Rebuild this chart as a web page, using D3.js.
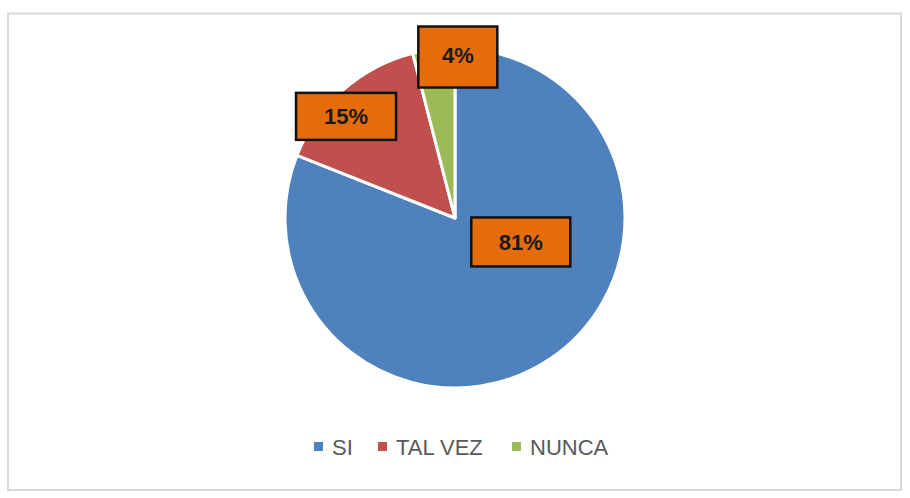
<!DOCTYPE html>
<meta charset="utf-8">
<style>
    body { margin: 0; background: #fff; }
    text { font-family: "Liberation Sans", Arial, sans-serif; }
</style>
<body>
    <div id="chart"></div>
</body>
<script src="https://cdn.jsdelivr.net/npm/d3@7"></script>
<script>
    var svg_width = 910,
        svg_height = 498;

    // chart values
    const categories = ["SI", "TAL VEZ", "NUNCA"];
    const values = [81, 15, 4];
    const colors = ["#4F81BD", "#C0504D", "#9BBB59"];

    // where each label box sits: [angle in degrees clockwise from top, distance from centre]
    const label_spot = [[110, 70], [313, 149], [1, 161]];
    const label_box = [[99, 49], [100, 47], [79, 61]];

    var cx = 455, cy = 218, radius = 170;

    var svg = d3.select("#chart").append("svg")
        .attr("width", svg_width)
        .attr("height", svg_height);

    // chart border
    svg.append("rect")
        .attr("x", 8).attr("y", 13.5)
        .attr("width", 893).attr("height", 476.5)
        .style("fill", "#fff")
        .style("stroke", "#d9d9d9")
        .style("stroke-width", 2);

    var pie = d3.pie().sort(null).value(function(d) { return d; });
    var arc = d3.arc().innerRadius(0).outerRadius(radius);
    var arcs = pie(values);

    var g = svg.append("g").attr("transform", "translate(" + cx + "," + cy + ")");

    g.selectAll("path.slice")
        .data(arcs)
        .enter()
            .append("path")
            .attr("class", "slice")
            .attr("d", arc)
            .style("fill", function(d, i) { return colors[i]; })
            .style("stroke", "#fff")
            .style("stroke-width", 3)
            .style("stroke-linejoin", "round");

    // data labels as orange boxes
    var total = d3.sum(values);
    var labels = g.selectAll("g.label")
        .data(arcs)
        .enter()
            .append("g")
            .attr("class", "label")
            .attr("transform", function(d, i) {
                var p = d3.pointRadial(label_spot[i][0] * Math.PI / 180, label_spot[i][1]);
                return "translate(" + p[0] + "," + p[1] + ")";
            });

    labels.append("rect")
        .attr("x", function(d, i) { return -label_box[i][0] / 2; })
        .attr("y", function(d, i) { return -label_box[i][1] / 2; })
        .attr("width", function(d, i) { return label_box[i][0]; })
        .attr("height", function(d, i) { return label_box[i][1]; })
        .style("fill", "#E46C0A")
        .style("stroke", "#111")
        .style("stroke-width", 2.5);

    labels.append("text")
        .attr("text-anchor", "middle")
        .attr("dy", function(d, i) { return i == 2 ? "0.25em" : "0.36em"; })
        .style("font-size", "22px")
        .style("font-weight", "bold")
        .style("fill", "#1a1a1a")
        .text(function(d) { return Math.round(d.value / total * 100) + "%"; });

    // legend
    var legend_x = [314, 378, 512];
    var legend = svg.append("g").attr("class", "legend")
        .selectAll("g")
        .data(categories)
        .enter()
            .append("g")
            .attr("transform", function(d, i) { return "translate(" + legend_x[i] + ",447)"; });

    legend.append("rect")
        .attr("x", 0).attr("y", -5)
        .attr("width", 9).attr("height", 9)
        .style("fill", function(d, i) { return colors[i]; });

    legend.append("text")
        .attr("x", 18)
        .attr("dy", "0.35em")
        .style("font-size", "22px")
        .style("fill", "#595959")
        .text(function(d) { return d; });
</script>
